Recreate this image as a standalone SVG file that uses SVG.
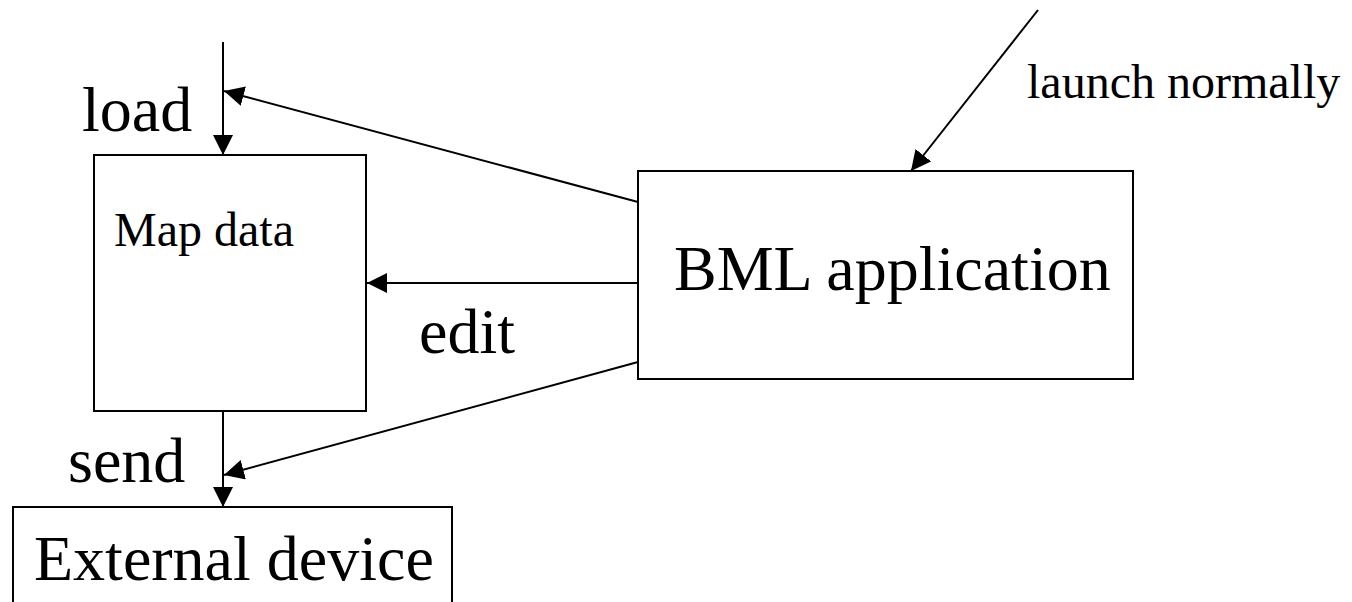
<svg xmlns="http://www.w3.org/2000/svg" width="1352" height="602" viewBox="0 0 1352 602">
<style>
.box{fill:#fff;stroke:#000;stroke-width:2}
.ln{fill:none;stroke:#000;stroke-width:2}
.t{font-family:"Liberation Serif","Times New Roman",serif;fill:#000}
.big{font-size:64px}
.mid{font-size:48px}
</style>
<defs>
<marker id="ah" viewBox="0 0 20 20" refX="20" refY="10" markerWidth="20" markerHeight="20" markerUnits="userSpaceOnUse" orient="auto">
<path d="M0,0 L20,10 L0,20 Z" fill="#000"/>
</marker>
</defs>
<g id="map-data">
<rect class="box" x="94" y="155" width="272" height="256"/>
<text class="t mid" x="114" y="246">Map data</text>
</g>
<g id="bml-application">
<rect class="box" x="638" y="171" width="495" height="208"/>
<text class="t big" x="674" y="290">BML application</text>
</g>
<g id="external-device">
<rect class="box" x="13" y="507" width="439" height="110"/>
<text class="t big" x="34" y="580">External device</text>
</g>
<g id="connectors">
<line class="ln" x1="223" y1="42" x2="223" y2="155" marker-end="url(#ah)"/>
<line class="ln" x1="638" y1="202" x2="224" y2="91" marker-end="url(#ah)"/>
<line class="ln" x1="638" y1="283" x2="367" y2="283" marker-end="url(#ah)"/>
<line class="ln" x1="223" y1="411" x2="223" y2="507" marker-end="url(#ah)"/>
<line class="ln" x1="638" y1="362" x2="224" y2="475" marker-end="url(#ah)"/>
<line class="ln" x1="1038" y1="10" x2="911" y2="171" marker-end="url(#ah)"/>
</g>
<g id="labels">
<text class="t big" x="82" y="131">load</text>
<text class="t big" x="419" y="353">edit</text>
<text class="t big" x="68" y="482">send</text>
<text class="t mid" x="1027" y="98">launch normally</text>
</g>
</svg>
